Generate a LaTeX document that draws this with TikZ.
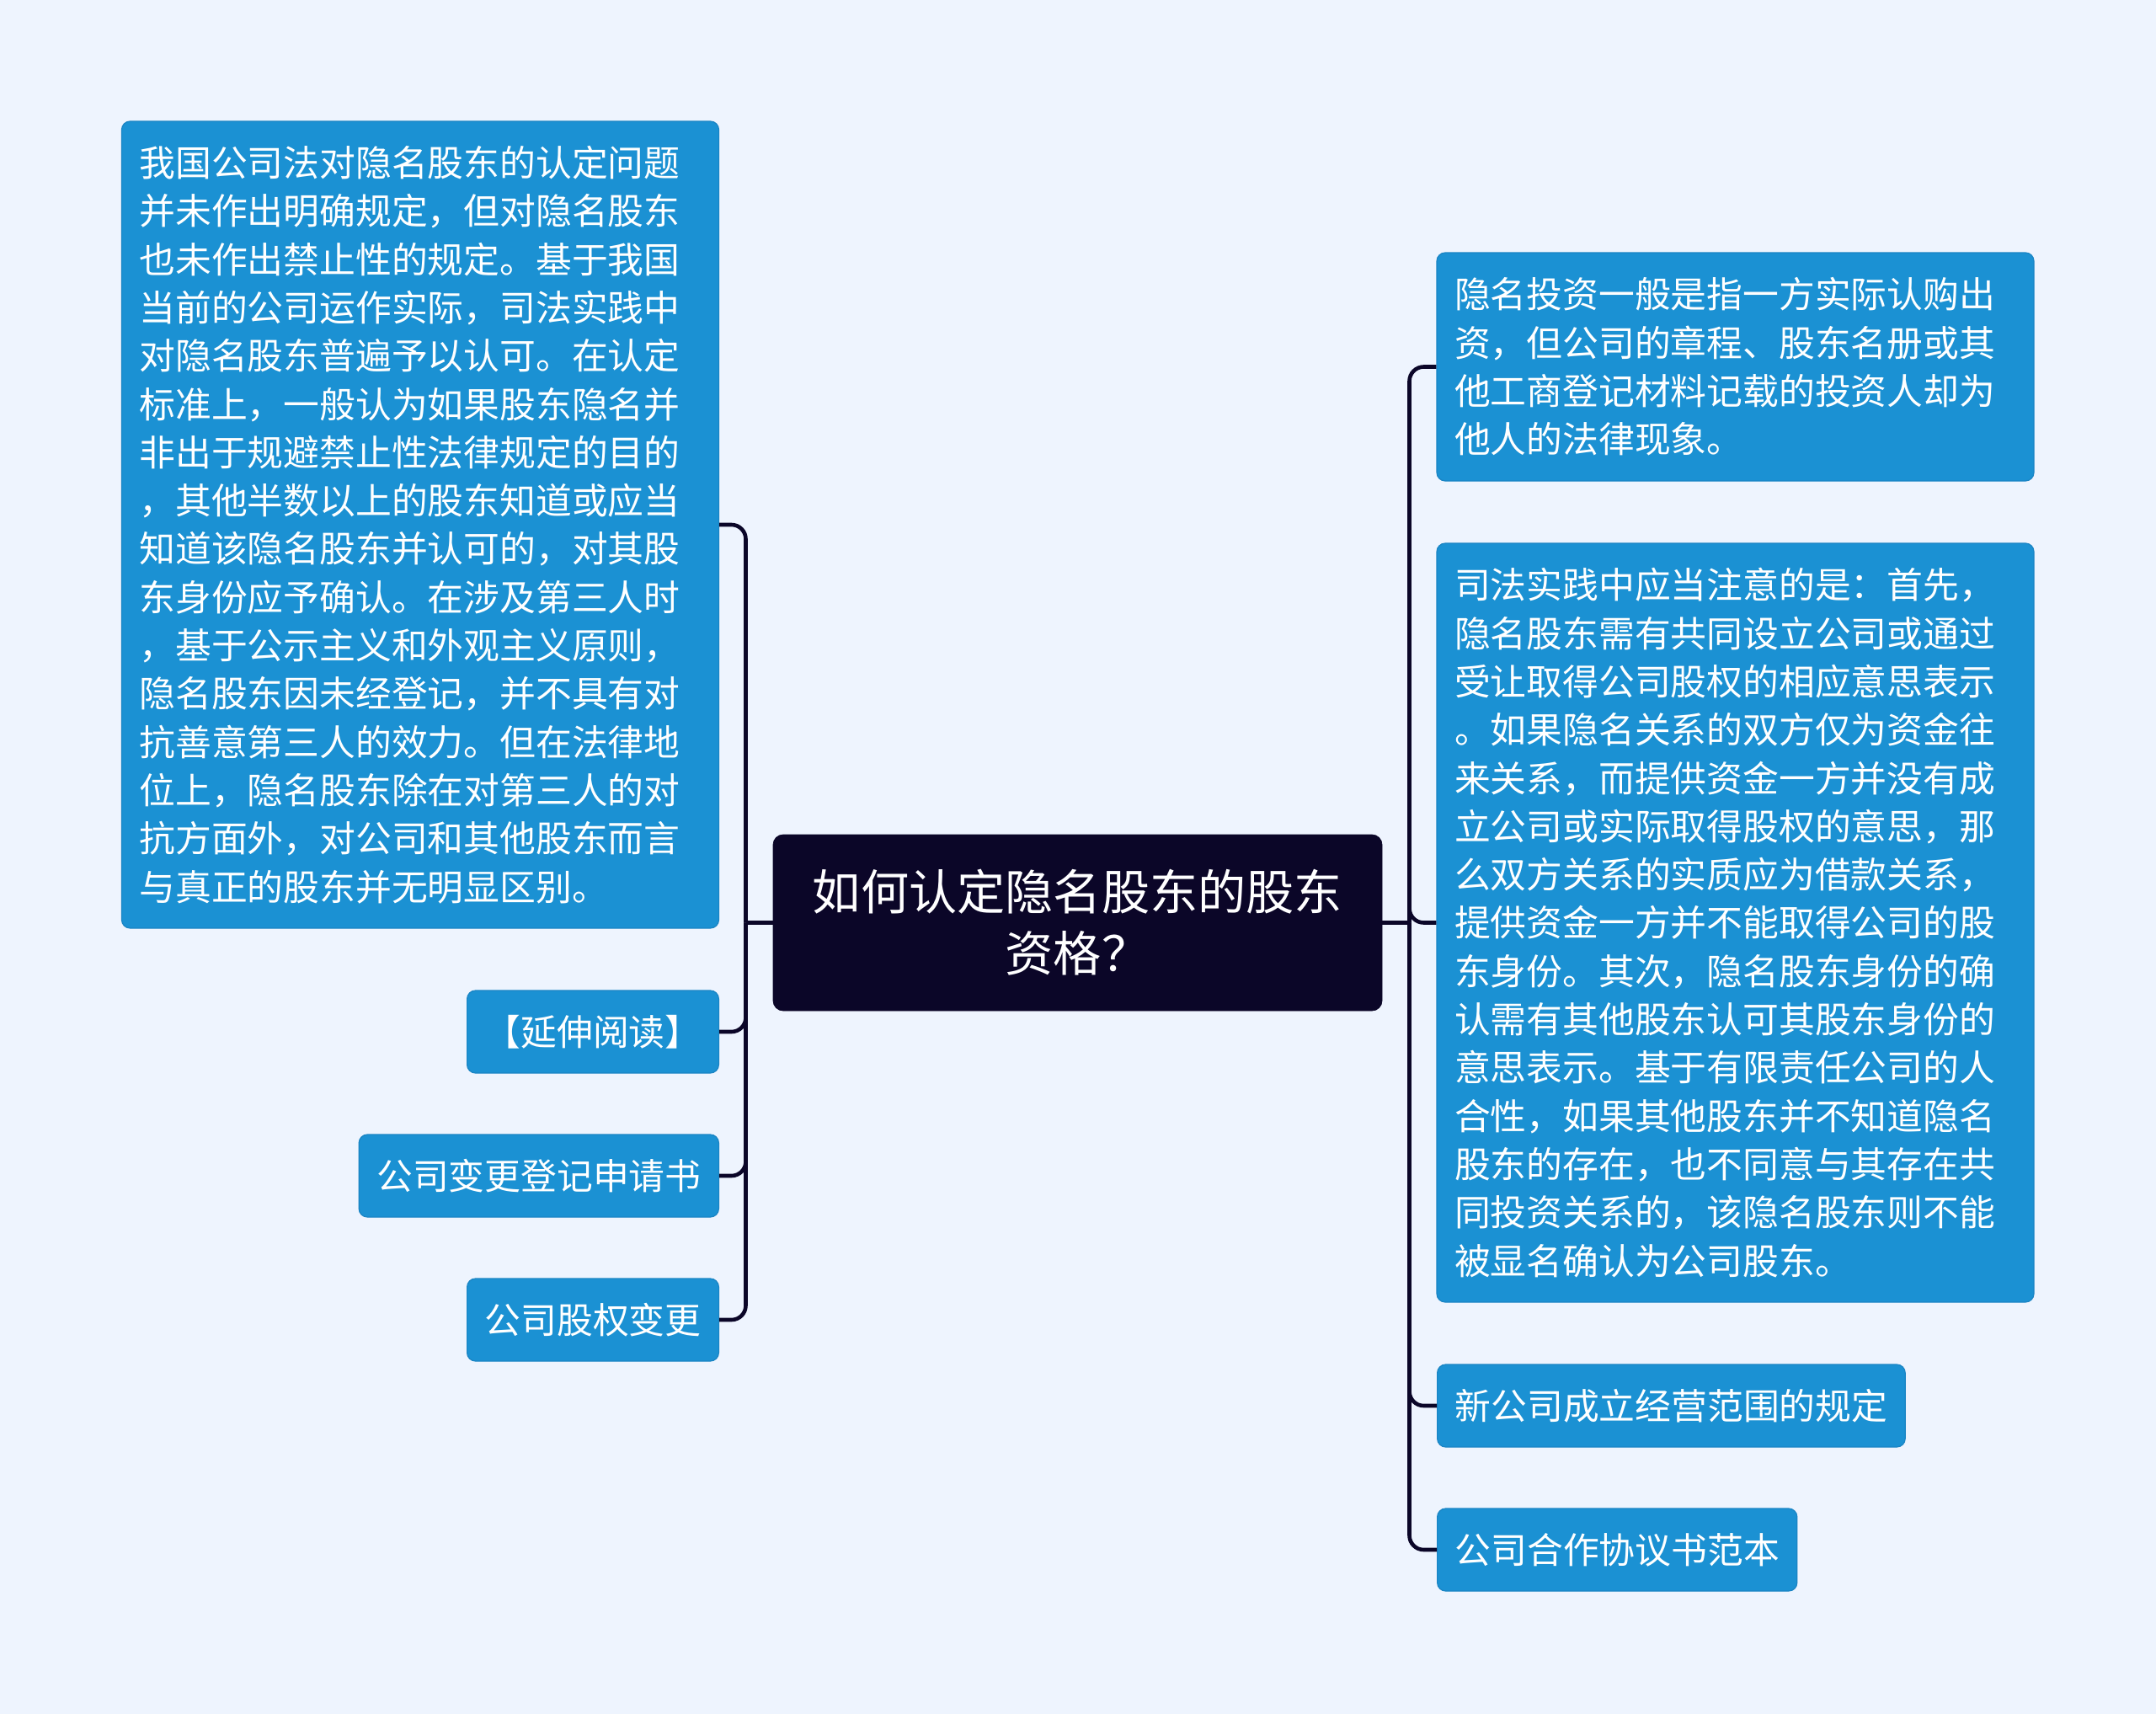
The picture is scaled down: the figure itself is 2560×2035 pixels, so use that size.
\documentclass[tikz,border=0pt]{standalone}
\usepackage{fontspec}
\setmainfont{Noto Sans CJK SC}
\definecolor{bg}{HTML}{EEF4FE}
\definecolor{boxblue}{HTML}{1B91D3}
\definecolor{boxedge}{HTML}{1A84C4}
\definecolor{rootfill}{HTML}{0B0628}
\definecolor{linkc}{HTML}{0B0628}
\begin{document}
\begin{tikzpicture}[x=0.5pt,y=-0.5pt,
  leaf/.style={rectangle, rounded corners=5pt, fill=boxblue, draw=boxedge, line width=0.6pt,
    text=white, font=\fontsize{21.4pt}{28.65pt}\selectfont, inner xsep=10.5pt, inner ysep=0pt},
  bigleaf/.style={leaf, text width=333.5pt, align=left},
  smallleaf/.style={leaf, minimum height=49pt, align=center},
  root/.style={rectangle, rounded corners=6pt, fill=rootfill, draw=rootfill, text=white,
    font=\fontsize{28.6pt}{36.5pt}\selectfont, align=center,
    minimum width=361.5pt, minimum height=104.5pt, inner sep=0pt},
  link/.style={draw=linkc, line width=2.3pt, rounded corners=8.5pt}]
\fill[bg] (0,0) rectangle (2560,2035);
\useasboundingbox (0,0) rectangle (2560,2035);

\path (1279.5,1095.5) ++(-394,0) coordinate (lj);
\path (1279.5,1095.5) ++(394,0) coordinate (rj);

\node[bigleaf, minimum height=479pt] (L1) at (499,623) {我国公司法对隐名股东的认定问题\\并未作出明确规定，但对隐名股东\\也未作出禁止性的规定。基于我国\\当前的公司运作实际，司法实践中\\对隐名股东普遍予以认可。在认定\\标准上，一般认为如果股东隐名并\\非出于规避禁止性法律规定的目的\\，其他半数以上的股东知道或应当\\知道该隐名股东并认可的，对其股\\东身份应予确认。在涉及第三人时\\，基于公示主义和外观主义原则，\\隐名股东因未经登记，并不具有对\\抗善意第三人的效力。但在法律地\\位上，隐名股东除在对第三人的对\\抗方面外，对公司和其他股东而言\\与真正的股东并无明显区别。};
\node[smallleaf, anchor=east] (L2) at (854,1225) {【延伸阅读】};
\node[smallleaf, anchor=east] (L3) at (854,1396) {公司变更登记申请书};
\node[smallleaf, anchor=east] (L4) at (854,1567) {公司股权变更};

\node[bigleaf, minimum height=135.5pt] (R1) at (2060.5,435.5) {隐名投资一般是指一方实际认购出\\资，但公司的章程、股东名册或其\\他工商登记材料记载的投资人却为\\他人的法律现象。};
\node[bigleaf, minimum height=450.5pt] (R2) at (2060.5,1095.5) {司法实践中应当注意的是：首先，\\隐名股东需有共同设立公司或通过\\受让取得公司股权的相应意思表示\\。如果隐名关系的双方仅为资金往\\来关系，而提供资金一方并没有成\\立公司或实际取得股权的意思，那\\么双方关系的实质应为借款关系，\\提供资金一方并不能取得公司的股\\东身份。其次，隐名股东身份的确\\认需有其他股东认可其股东身份的\\意思表示。基于有限责任公司的人\\合性，如果其他股东并不知道隐名\\股东的存在，也不同意与其存在共\\同投资关系的，该隐名股东则不能\\被显名确认为公司股东。};
\node[smallleaf, anchor=west] (R3) at (1706,1669) {新公司成立经营范围的规定};
\node[smallleaf, anchor=west] (R4) at (1706,1840) {公司合作协议书范本};

\foreach \n in {L1,L2,L3,L4} \draw[link] (lj) |- (\n.east);
\foreach \n in {R1,R2,R3,R4} \draw[link] (rj) |- (\n.west);

\node[root] (root) at (1279.5,1095.5) {如何认定隐名股东的股东\\资格？};
\draw[link] (root.west) -- (lj);
\draw[link] (root.east) -- (rj);
\end{tikzpicture}
\end{document}
